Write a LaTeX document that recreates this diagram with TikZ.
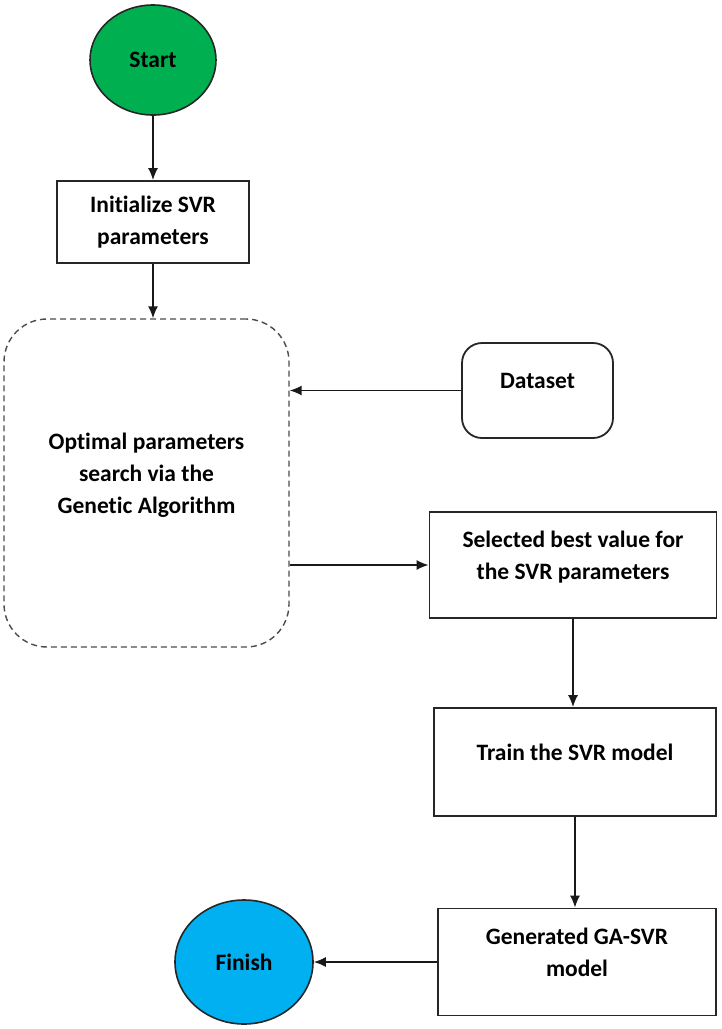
\documentclass[tikz,border=0pt]{standalone}
\usepackage{fontspec}
\setmainfont{Carlito}[Ligatures=NoCommon]
\usetikzlibrary{shapes.geometric,arrows.meta}
\definecolor{startgreen}{RGB}{0,176,80}
\definecolor{finishblue}{RGB}{0,176,240}
\newcommand{\lift}[1]{\raisebox{8pt}[\height][\depth]{\begin{tabular}{@{}c@{}}#1\end{tabular}}}
\begin{document}
\begin{tikzpicture}[x=1pt,y=-1pt,
    txt/.style={align=center,inner sep=0pt,font=\bfseries\fontsize{23.5}{32}\selectfont},
    term/.style={txt,ellipse,draw=black!85,line width=1.6pt},
    stepbox/.style={txt,rectangle,draw=black!85,line width=1.8pt},
    arr/.style={-{Latex[length=12pt,width=10pt]},line width=1.5pt,black!90}]
    \useasboundingbox (0,0) rectangle (722,1029);
    \node[term,fill=startgreen,minimum width=126,minimum height=110] (start) at (153,60) {Start};
    \node[stepbox,minimum width=192,minimum height=82] (init) at (153,222) {Initialize SVR\\parameters};
    \node[stepbox,draw=black!70,line width=1.4pt,dash pattern=on 6pt off 4pt,rounded corners=43pt,
        minimum width=285,minimum height=328] (ga) at (146.5,483) {\lift{Optimal parameters\\search via the\\Genetic Algorithm}};
    \node[stepbox,rounded corners=20pt,minimum width=151,minimum height=95] (data) at (537.5,390.5) {\lift{Dataset}};
    \node[stepbox,minimum width=287,minimum height=106] (sel) at (573,565) {\lift{Selected best value for\\the SVR parameters}};
    \node[stepbox,minimum width=282,minimum height=108] (train) at (575,762) {\lift{Train the SVR model}};
    \node[stepbox,minimum width=278,minimum height=107] (gen) at (577,962) {\lift{Generated GA-SVR\\model}};
    \node[term,fill=finishblue,minimum width=138,minimum height=124] (finish) at (244,962) {Finish};
    \draw[arr] (start) -- (init);
    \draw[arr] (init.south) -- (init.south |- ga.north);
    \draw[arr] (data.west) -- (data.west -| ga.east);
    \draw[arr] (ga.east |- sel.west) -- (sel.west);
    \draw[arr] (sel.south) -- (sel.south |- train.north);
    \draw[arr] (train.south) -- (train.south |- gen.north);
    \draw[arr] (gen) -- (finish);
\end{tikzpicture}
\end{document}
